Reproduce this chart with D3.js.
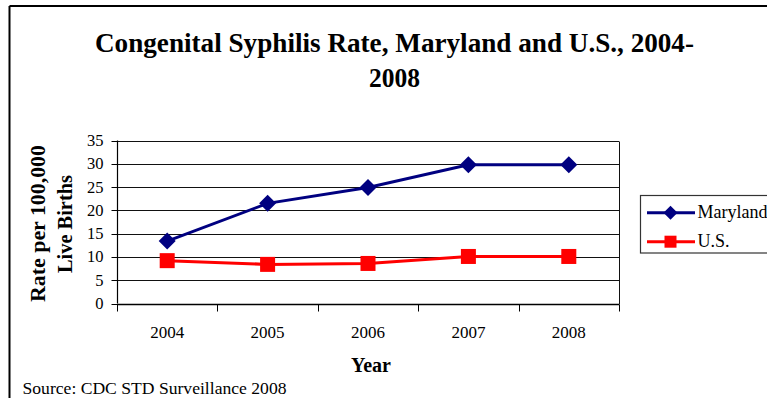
<!DOCTYPE html>
<html>
<head>
<meta charset="utf-8">
<script src="https://cdn.jsdelivr.net/npm/d3@7"></script>
<style>
  html, body { margin: 0; padding: 0; background: #fff; }
  svg { display: block; font-family: "Liberation Serif", "Times New Roman", serif; }
</style>
</head>
<body>
<svg id="chart" width="767" height="398"></svg>
<script>
const years = ["2004", "2005", "2006", "2007", "2008"];
const maryland = [13.4, 21.5, 24.9, 29.8, 29.8];
const us = [9.2, 8.4, 8.6, 10.1, 10.1];
const yTicks = [0, 5, 10, 15, 20, 25, 30, 35];
const seriesNames = ["Maryland", "U.S."];

const svg = d3.select("#chart");

// outer chart border (top & left visible)
svg.append("line").attr("x1", 9.5).attr("x2", 800).attr("y1", 6).attr("y2", 6)
  .attr("stroke", "#000").attr("stroke-width", 2);
svg.append("line").attr("x1", 9.5).attr("x2", 9.5).attr("y1", 6).attr("y2", 400)
  .attr("stroke", "#000").attr("stroke-width", 2);

const plot = { left: 117, right: 619, top: 140.5, bottom: 303.5 };

const x = d3.scaleBand().domain(years).range([plot.left, plot.right]);
const y = d3.scaleLinear().domain([0, 35]).range([plot.bottom, plot.top]);

// gridlines
svg.append("g").selectAll("line").data(yTicks).join("line")
  .attr("x1", plot.left).attr("x2", plot.right)
  .attr("y1", d => Math.round(y(d)) + 0.5).attr("y2", d => Math.round(y(d)) + 0.5)
  .attr("stroke", "#111").attr("stroke-width", 1);

// right border of plot area
svg.append("line").attr("x1", plot.right + 0.5).attr("x2", plot.right + 0.5)
  .attr("y1", Math.round(y(35)) + 0.5).attr("y2", Math.round(y(0)) + 0.5)
  .attr("stroke", "#111").attr("stroke-width", 1);

// y axis
const yAxis = svg.append("g").attr("transform", `translate(${plot.left + 0.5},0)`);
yAxis.append("line").attr("y1", y(35)).attr("y2", y(0)).attr("stroke", "#000").attr("stroke-width", 1.2);
yAxis.selectAll("line.t").data(yTicks).join("line").attr("class", "t")
  .attr("x1", -6).attr("x2", 0)
  .attr("y1", d => Math.round(y(d)) + 0.5).attr("y2", d => Math.round(y(d)) + 0.5)
  .attr("stroke", "#000");
yAxis.selectAll("text").data(yTicks).join("text")
  .attr("x", -14).attr("y", d => y(d) + 5.5)
  .attr("text-anchor", "end").attr("font-size", 16.5).attr("fill", "#000")
  .text(d => d);

// x axis
const xAxis = svg.append("g").attr("transform", `translate(0,${Math.round(y(0)) + 0.5})`);
xAxis.append("line").attr("x1", plot.left).attr("x2", plot.right).attr("stroke", "#000").attr("stroke-width", 1.5);
const bounds = years.map(d => x(d)).concat([plot.right]);
xAxis.selectAll("line.t").data(bounds).join("line").attr("class", "t")
  .attr("x1", d => Math.round(d) + 0.5).attr("x2", d => Math.round(d) + 0.5)
  .attr("y1", 0).attr("y2", 7).attr("stroke", "#000");
xAxis.selectAll("text").data(years).join("text")
  .attr("x", d => x(d) + x.bandwidth() / 2).attr("y", 33.5)
  .attr("text-anchor", "middle").attr("font-size", 17).attr("fill", "#000")
  .text(d => d);

// lines
const line = d3.line().x((d, i) => x(years[i]) + x.bandwidth() / 2).y(d => y(d));
svg.append("path").datum(us).attr("d", line).attr("fill", "none")
  .attr("stroke", "#ff0000").attr("stroke-width", 3);
svg.append("path").datum(maryland).attr("d", line).attr("fill", "none")
  .attr("stroke", "#000080").attr("stroke-width", 3);

function diamond(g, cx, cy, r) {
  g.append("path").attr("d", `M${cx},${cy - r}L${cx + r},${cy}L${cx},${cy + r}L${cx - r},${cy}Z`)
    .attr("fill", "#000080");
}
function square(g, cx, cy, s) {
  g.append("rect").attr("x", cx - s / 2).attr("y", cy - s / 2).attr("width", s).attr("height", s)
    .attr("fill", "#ff0000");
}
const mk = svg.append("g");
us.forEach((v, i) => square(mk, x(years[i]) + x.bandwidth() / 2, y(v), 15));
maryland.forEach((v, i) => diamond(mk, x(years[i]) + x.bandwidth() / 2, y(v), 8.5));

// title
svg.append("text").attr("x", 394.5).attr("y", 52).attr("text-anchor", "middle")
  .attr("font-size", 27).attr("font-weight", "bold")
  .attr("textLength", 599).attr("lengthAdjust", "spacingAndGlyphs")
  .text("Congenital Syphilis Rate, Maryland and U.S., 2004-");
svg.append("text").attr("x", 394.5).attr("y", 87).attr("text-anchor", "middle")
  .attr("font-size", 27).attr("font-weight", "bold")
  .attr("textLength", 51).attr("lengthAdjust", "spacingAndGlyphs")
  .text("2008");

// y axis title
svg.append("text").attr("transform", "translate(45,223.5) rotate(-90)")
  .attr("text-anchor", "middle").attr("font-size", 20).attr("font-weight", "bold")
  .attr("textLength", 157).attr("lengthAdjust", "spacingAndGlyphs")
  .text("Rate per 100,000");
svg.append("text").attr("transform", "translate(72,224) rotate(-90)")
  .attr("text-anchor", "middle").attr("font-size", 20).attr("font-weight", "bold")
  .attr("textLength", 98).attr("lengthAdjust", "spacingAndGlyphs")
  .text("Live Births");

// x axis title
svg.append("text").attr("x", 371).attr("y", 372).attr("text-anchor", "middle")
  .attr("font-size", 20).attr("font-weight", "bold").text("Year");

// source
svg.append("text").attr("x", 22.5).attr("y", 394).attr("font-size", 17)
  .attr("textLength", 264).attr("lengthAdjust", "spacingAndGlyphs")
  .text("Source: CDC STD Surveillance 2008");

// legend
const lg = svg.append("g");
lg.append("rect").attr("x", 640.5).attr("y", 195.5).attr("width", 140).attr("height", 57.5)
  .attr("fill", "#fff").attr("stroke", "#333").attr("stroke-width", 1.2);
const legendRows = [
  { name: seriesNames[0], color: "#000080", y: 212.7, shape: "diamond" },
  { name: seriesNames[1], color: "#ff0000", y: 241.7, shape: "square" }
];
legendRows.forEach(r => {
  lg.append("line").attr("x1", 647).attr("x2", 695).attr("y1", r.y).attr("y2", r.y)
    .attr("stroke", r.color).attr("stroke-width", 3);
  if (r.shape === "diamond") diamond(lg, 670.5, r.y, 7);
  else square(lg, 670.5, r.y, 12);
  lg.append("text").attr("x", 697.5).attr("y", r.y + 5.5).attr("font-size", 18).text(r.name);
});
</script>
</body>
</html>
